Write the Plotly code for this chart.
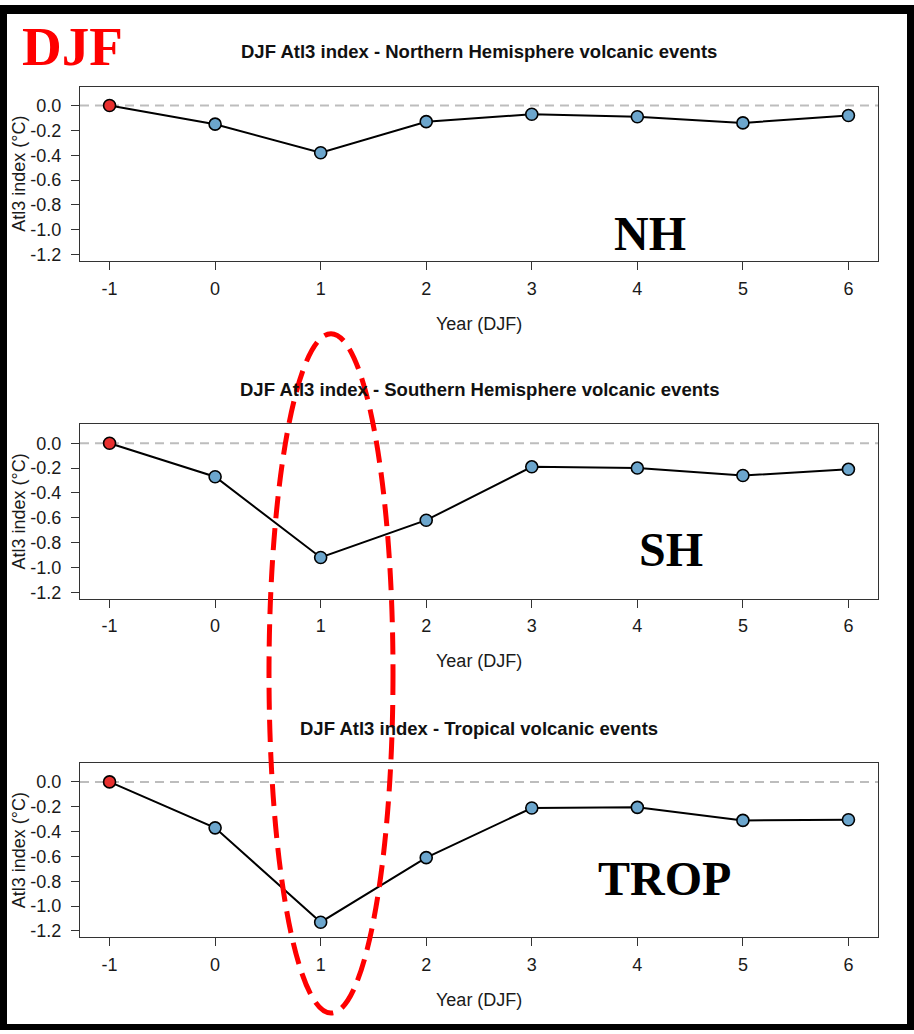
import plotly.graph_objects as go

W, H = 914, 1034

years = [-1, 0, 1, 2, 3, 4, 5, 6]
nh_values = [0.0, -0.15, -0.38, -0.13, -0.07, -0.09, -0.14, -0.08]
sh_values = [0.0, -0.27, -0.92, -0.62, -0.19, -0.20, -0.26, -0.21]
trop_values = [0.0, -0.37, -1.13, -0.61, -0.21, -0.205, -0.31, -0.305]

titles = [
    "DJF Atl3 index - Northern Hemisphere volcanic events",
    "DJF Atl3 index - Southern Hemisphere volcanic events",
    "DJF Atl3 index - Tropical volcanic events",
]
panel_labels = ["NH", "SH", "TROP"]
y_tick_vals = [0.0, -0.2, -0.4, -0.6, -0.8, -1.0, -1.2]
y_tick_text = ["0.0", "-0.2", "-0.4", "-0.6", "-0.8", "-1.0", "-1.2"]
x_tick_text = ["-1", "0", "1", "2", "3", "4", "5", "6"]

series = [nh_values, sh_values, trop_values]

# layout geometry in pixels
box_left, box_right = 80, 878
box_tops = [87, 426, 766]
box_h = 175
label_pos = [(650, 234), (671, 552), (664, 882)]


def px(x):
    return x / W


def py(y):
    return 1 - y / H


fig = go.Figure()
font_family = "Liberation Sans, Arial, sans-serif"
serif = "Liberation Serif, Times New Roman, serif"
blue = "#6CA6CD"
red = "#E8302F"
txt = "#1a1a1a"

for i, vals in enumerate(series):
    n = "" if i == 0 else str(i + 1)
    xa, ya = "x" + n, "y" + n
    colors = [red] + [blue] * (len(vals) - 1)
    fig.add_trace(go.Scatter(
        x=years, y=vals, mode="lines+markers", xaxis=xa, yaxis=ya,
        line=dict(color="black", width=2),
        marker=dict(size=12, color=colors, line=dict(color="black", width=1.6)),
        showlegend=False,
    ))
    top = box_tops[i]
    bot = top + box_h
    fig.layout["xaxis" + n] = dict(
        domain=[px(box_left), px(box_right)], anchor=ya,
        range=[-1.28, 6.28], tickvals=years, ticktext=x_tick_text,
        ticks="outside", ticklen=8, tickcolor="#333", tickwidth=1,
        showline=True, mirror=True, linecolor="#333", linewidth=1,
        showgrid=False, zeroline=False,
        tickfont=dict(family=font_family, size=18, color=txt),
        ticklabelstandoff=3,
    )
    fig.layout["yaxis" + n] = dict(
        domain=[py(bot), py(top)], anchor=xa,
        range=[-1.252, 0.152], tickvals=y_tick_vals, ticktext=y_tick_text,
        ticks="outside", ticklen=8, tickcolor="#333", tickwidth=1,
        showline=True, mirror=True, linecolor="#333", linewidth=1,
        showgrid=False, zeroline=False,
        tickfont=dict(family=font_family, size=18, color=txt),
        ticklabelstandoff=6,
    )
    # zero reference line
    fig.add_shape(type="line", xref=xa + " domain", yref=ya, x0=0, x1=1, y0=0, y1=0,
                  line=dict(color="#BDBDBD", width=2, dash="9px,6px"), layer="below")
    # subplot title
    fig.add_annotation(text="<b>" + titles[i] + "</b>", xref="paper", yref="paper",
                       x=px((box_left + box_right) / 2), y=py(top - 35),
                       xanchor="center", yanchor="middle", showarrow=False,
                       font=dict(family=font_family, size=18.5, color="#111"))
    # axis titles
    fig.add_annotation(text="Year (DJF)", xref="paper", yref="paper",
                       x=px((box_left + box_right) / 2), y=py(bot + 63),
                       xanchor="center", yanchor="middle", showarrow=False,
                       font=dict(family=font_family, size=18, color=txt))
    fig.add_annotation(text="Atl3 index (°C)", xref="paper", yref="paper",
                       x=px(19), y=py(top + box_h / 2), textangle=-90,
                       xanchor="center", yanchor="middle", showarrow=False,
                       font=dict(family=font_family, size=18, color=txt))
    # big panel label
    lx, ly = label_pos[i]
    fig.add_annotation(text="<b>" + panel_labels[i] + "</b>", xref="paper", yref="paper",
                       x=px(lx), y=py(ly), xanchor="center", yanchor="middle", showarrow=False,
                       font=dict(family=serif, size=48, color="black"))

# DJF label
fig.add_annotation(text="<b>DJF</b>", xref="paper", yref="paper", x=px(72), y=py(47),
                   xanchor="center", yanchor="middle",
                   showarrow=False, font=dict(family=serif, size=55, color="#FF0000"))

# red dashed ellipse
fig.add_shape(type="circle", xref="paper", yref="paper",
              x0=px(269), x1=px(393), y0=py(1017), y1=py(335),
              line=dict(color="#FF0000", width=5, dash="22px,10px"), layer="above")

# black frame
for (x0, y0, x1, y1) in [(0, 5, 914, 14), (0, 5, 7, 1034), (907, 5, 914, 1034), (0, 1028, 914, 1034)]:
    fig.add_shape(type="rect", xref="paper", yref="paper",
                  x0=px(x0), x1=px(x1), y0=py(y1), y1=py(y0),
                  fillcolor="black", line=dict(width=0), layer="above")

fig.update_layout(
    width=W, height=H, margin=dict(l=0, r=0, t=0, b=0),
    paper_bgcolor="white", plot_bgcolor="white",
)

fig.write_html("out.html", config={"displayModeBar": False},
               post_script="document.body.style.margin='0';document.body.style.overflow='hidden';")
